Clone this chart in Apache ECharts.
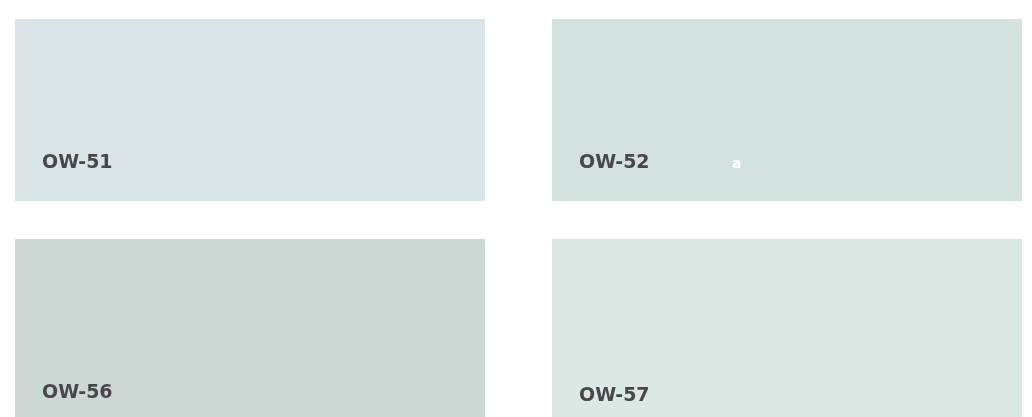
<!DOCTYPE html>
<html>
<head>
<meta charset="utf-8">
<script src="https://cdn.jsdelivr.net/npm/echarts@6/dist/echarts.min.js"></script>
<style>
  html, body { margin: 0; padding: 0; background: #ffffff; }
  #main { width: 1032px; height: 417px; }
</style>
</head>
<body>
<div id="main"></div>
<script>
// swatch data
const codes = ['OW-51', 'OW-52', 'OW-56', 'OW-57'];
const swatchColors = ['#d8e4e5', '#d3e2df', '#cbd8d4', '#dce8e4'];
const cols = [0, 1, 0, 1];
const rows = [0, 0, 1, 1];
const notes = ['', 'a', '', ''];
const colCats = ['c0', 'c1'];
const rowCats = ['r0', 'r1'];

const myChart = echarts.init(document.getElementById('main'));

const swatchW = 470 / 537;  // share of the band
const swatchH = 182 / 220;
const labelTop = [135, 135, 145, 148];

myChart.setOption({
  animation: false,
  grid: { left: 15, top: 19, width: 1074, height: 440, outerBoundsMode: 'none', containLabel: false },
  xAxis: { type: 'category', data: colCats, show: false },
  yAxis: { type: 'category', data: rowCats, inverse: true, show: false },
  series: [{
    type: 'custom',
    clip: false,
    data: codes.map((c, i) => [cols[i], rows[i], i]),
    renderItem: function (params, api) {
      const i = api.value(2);
      const center = api.coord([api.value(0), api.value(1)]);
      const band = api.size([1, 1]);
      const x0 = center[0] - band[0] / 2;
      const y0 = center[1] - band[1] / 2;
      const children = [{
        type: 'rect',
        shape: { x: x0, y: y0, width: band[0] * swatchW, height: band[1] * swatchH },
        style: { fill: swatchColors[i] }
      }, {
        type: 'text',
        x: x0 + 27,
        y: y0 + labelTop[i],
        style: {
          text: codes[i],
          fill: '#4a474c',
          font: 'bold 19px "DejaVu Sans"',
          verticalAlign: 'top'
        }
      }];
      if (notes[i]) {
        children.push({
          type: 'text',
          x: x0 + 180,
          y: y0 + labelTop[i] + 3,
          style: {
            text: notes[i],
            fill: '#ffffff',
            font: 'bold 14px "DejaVu Sans"',
            verticalAlign: 'top'
          }
        });
      }
      return { type: 'group', children: children };
    }
  }]
});
</script>
</body>
</html>
